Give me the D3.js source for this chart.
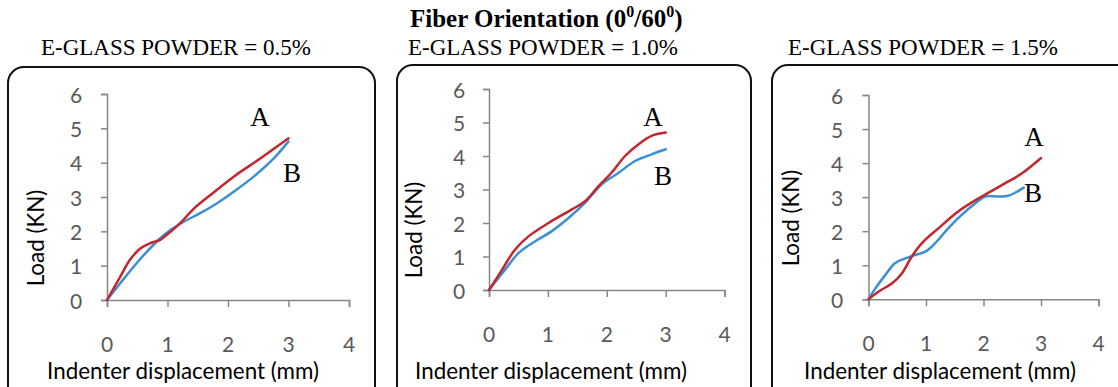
<!DOCTYPE html>
<html><head><meta charset="utf-8">
<script src="https://cdn.jsdelivr.net/npm/d3@7"></script>
<style>
html,body{margin:0;padding:0;background:#fff;}
svg{display:block;}
</style></head>
<body>
<svg id="chart" width="1118" height="387"></svg>
<script>
// ---- data ----
const xTicks = [0, 1, 2, 3, 4];
const yTicks = [0, 1, 2, 3, 4, 5, 6];
const subtitles = ["E-GLASS POWDER = 0.5%", "E-GLASS POWDER = 1.0%", "E-GLASS POWDER = 1.5%"];
const seriesNames = ["A", "B"];

const p1A = [[0,0],[0.22,0.68],[0.38,1.17],[0.55,1.5],[0.71,1.65],[0.88,1.75],[0.99,1.9],[1.21,2.24],[1.44,2.67],[1.71,3.06],[2.1,3.6],[2.54,4.13],[3.0,4.71]];
const p1B = [[0,0],[0.22,0.49],[0.44,0.97],[0.66,1.41],[0.88,1.8],[1.05,2.04],[1.27,2.28],[1.54,2.53],[1.82,2.82],[2.1,3.16],[2.43,3.6],[2.76,4.13],[3.0,4.62]];
const p2A = [[0,0],[0.22,0.6],[0.44,1.2],[0.67,1.6],[1.01,2.0],[1.4,2.4],[1.63,2.65],[1.86,3.1],[2.08,3.5],[2.31,4.0],[2.54,4.35],[2.76,4.6],[3.0,4.7]];
const p2B = [[0,0],[0.27,0.6],[0.5,1.1],[0.78,1.45],[1.06,1.75],[1.35,2.15],[1.63,2.6],[1.91,3.15],[2.2,3.5],[2.48,3.85],[2.76,4.05],[3.0,4.2]];
const p3A = [[0,0],[0.17,0.22],[0.41,0.47],[0.58,0.76],[0.75,1.25],[0.93,1.65],[1.22,2.09],[1.56,2.58],[1.97,3.02],[2.38,3.41],[2.67,3.7],[3.0,4.15]];
const p3B = [[0,0],[0.12,0.32],[0.29,0.71],[0.46,1.06],[0.64,1.2],[0.81,1.3],[0.99,1.4],[1.16,1.65],[1.39,2.09],[1.62,2.48],[1.86,2.82],[2.03,3.02],[2.26,3.02],[2.43,3.04],[2.7,3.28]];

const panelData = [[p1A, p1B], [p2A, p2B], [p3A, p3B]];

// ---- layout ----
const layout = [
  {box:[8,67,367,360], xr:[107,349], yr:[300,94], ylx:76, xly:343, ytx:35, yty:238, xtx:183, xty:370, stx:41, lab:[[260,117],[292,173]]},
  {box:[397,65,354,360], xr:[489,724.6], yr:[290,89], ylx:459, xly:333, ytx:413, yty:230, xtx:551, xty:370, stx:408, lab:[[653,117],[663,176]]},
  {box:[772,65,360,360], xr:[868.5,1098.5], yr:[299.3,95], ylx:837, xly:342, ytx:790, yty:218, xtx:940, xty:370, stx:788, lab:[[1034,137],[1033,193]]}
];
const colors = ["#c1272d", "#3b8fd5"];
const axisColor = "#868686";
const tickText = "#595959";
const sansFont = "Lato, 'Open Sans', sans-serif";
const serifFont = "'Liberation Serif', 'Times New Roman', serif";

const svg = d3.select("#chart");

// Title
const title = svg.append("text")
  .attr("x", 410).attr("y", 27)
  .attr("font-family", serifFont).attr("font-weight", "bold").attr("font-size", 25)
  .attr("fill", "#000");
title.append("tspan").text("Fiber Orientation (0");
title.append("tspan").attr("dy", -10).attr("font-size", 16).text("0");
title.append("tspan").attr("dy", 10).text("/60");
title.append("tspan").attr("dy", -10).attr("font-size", 16).text("0");
title.append("tspan").attr("dy", 10).text(")");

layout.forEach((L, i) => {
  const g = svg.append("g");
  // box
  g.append("rect")
    .attr("x", L.box[0]).attr("y", L.box[1]).attr("width", L.box[2]).attr("height", L.box[3])
    .attr("rx", 16).attr("ry", 16)
    .attr("fill", "none").attr("stroke", "#111").attr("stroke-width", 2);

  // subtitle
  g.append("text").attr("x", L.stx).attr("y", 55)
    .attr("font-family", serifFont).attr("font-size", 23).attr("fill", "#000")
    .text(subtitles[i]);

  const x = d3.scaleLinear().domain([0, 4]).range(L.xr);
  const y = d3.scaleLinear().domain([0, 6]).range(L.yr);

  // x axis
  const xa = g.append("g").attr("transform", `translate(0,${L.yr[0]})`)
    .call(d3.axisBottom(x).tickValues(xTicks).tickSize(7).tickPadding(0).tickFormat(""));
  xa.select(".domain").attr("stroke", axisColor).attr("stroke-width", 1.5);
  xa.selectAll(".tick line").attr("stroke", axisColor).attr("stroke-width", 1.5);
  // x tick labels
  g.selectAll(".xl").data(xTicks).enter().append("text")
    .attr("x", d => x(d)).attr("y", L.xly)
    .attr("text-anchor", "middle").attr("dominant-baseline", "central")
    .attr("font-family", sansFont).attr("font-size", 21).attr("fill", tickText)
    .text(d => d);

  // y axis
  const ya = g.append("g").attr("transform", `translate(${L.xr[0]},0)`)
    .call(d3.axisLeft(y).tickValues(yTicks).tickSize(6).tickFormat(""));
  ya.select(".domain").attr("stroke", axisColor).attr("stroke-width", 1.5);
  ya.selectAll(".tick line").attr("stroke", axisColor).attr("stroke-width", 1.5);
  g.selectAll(".yl").data(yTicks).enter().append("text")
    .attr("x", L.ylx).attr("y", d => y(d))
    .attr("text-anchor", "middle").attr("dominant-baseline", "central")
    .attr("font-family", sansFont).attr("font-size", 21).attr("fill", tickText)
    .text(d => d);

  // axis titles
  g.append("text").attr("x", L.xtx).attr("y", L.xty)
    .attr("text-anchor", "middle").attr("dominant-baseline", "central")
    .attr("font-family", sansFont).attr("font-size", 22.4).attr("fill", "#000")
    .text("Indenter displacement (mm)");
  g.append("text")
    .attr("transform", `translate(${L.ytx},${L.yty}) rotate(-90)`)
    .attr("text-anchor", "middle").attr("dominant-baseline", "central")
    .attr("font-family", sansFont).attr("font-size", 22.4).attr("fill", "#000")
    .text("Load (KN)");

  // lines (B first, A on top)
  const line = d3.line().x(d => x(d[0])).y(d => y(d[1])).curve(d3.curveCatmullRom.alpha(0.5));
  [1, 0].forEach(s => {
    g.append("path").datum(panelData[i][s])
      .attr("d", line)
      .attr("fill", "none").attr("stroke", colors[s]).attr("stroke-width", 2.5)
      .attr("stroke-linejoin", "round").attr("stroke-linecap", "round");
  });

  // series labels
  seriesNames.forEach((n, s) => {
    g.append("text").attr("x", L.lab[s][0]).attr("y", L.lab[s][1] + 9)
      .attr("text-anchor", "middle")
      .attr("font-family", serifFont).attr("font-size", 27).attr("fill", "#000")
      .text(n);
  });
});
</script>
</body></html>
